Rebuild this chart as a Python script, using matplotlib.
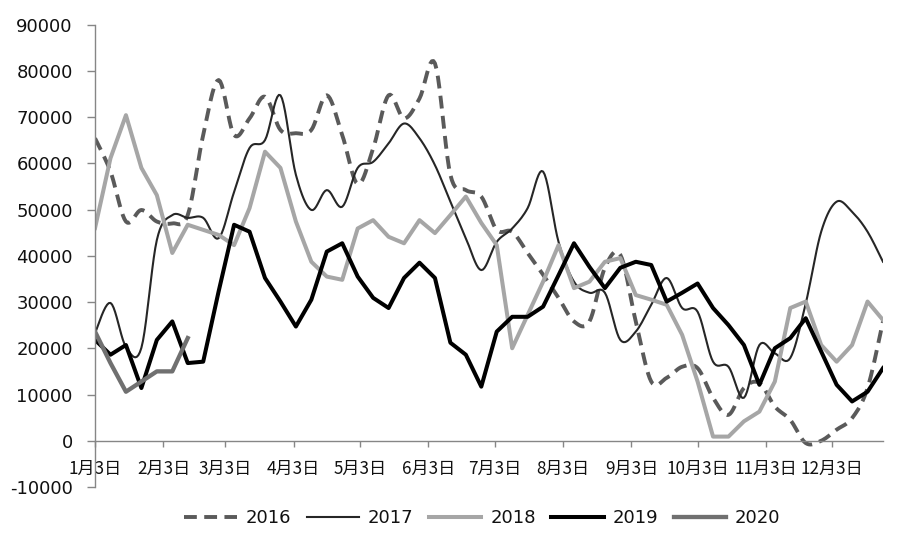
import numpy as np
import matplotlib
matplotlib.use("Agg")
import matplotlib.pyplot as plt
from matplotlib.lines import Line2D

plt.rcParams['font.family'] = ['DejaVu Sans', 'Noto Sans CJK SC']

# weekly points, day offset from 1月3日
weeks = np.arange(52) * 7
month_days = [0, 31, 59, 90, 120, 151, 181, 212, 243, 273, 304, 334]
month_labels = ["1月3日", "2月3日", "3月3日", "4月3日", "5月3日", "6月3日",
                "7月3日", "8月3日", "9月3日", "10月3日", "11月3日", "12月3日"]

v2016 = [65400, 58200, 47400, 49900, 47400, 47000, 48800, 66100, 78000, 66100,
         69700, 74400, 67200, 66500, 67200, 74700, 66100, 55500, 63200, 74700,
         69700, 74000, 81600, 57500, 54200, 52800, 45600, 45200, 40600, 35900,
         30900, 25800, 25800, 37400, 40200, 25800, 12800, 13600, 16000, 15700,
         9300, 5600, 11400, 12500, 7400, 4500, -500, 0, 2400, 4900,
         11400, 25800]
v2017 = [23300, 29800, 20300, 20100, 43400, 48800, 48200, 48200, 43800, 53800,
         63300, 65000, 74700, 57500, 49900, 54200, 50600, 59000, 60300, 64300,
         68600, 65400, 59600, 51700, 43800, 36900, 43000, 45900, 50300, 58200,
         43000, 34400, 32000, 32000, 21800, 23600, 29400, 35200, 28700, 27900,
         17100, 16000, 9300, 20700, 18900, 17900, 29700, 45200, 51700, 49500,
         45200, 38700]
v2018 = [46000, 61100, 70400, 59000, 53100, 40600, 46700, 45600, 44500, 42300,
         50300, 62500, 59000, 47400, 38700, 35500, 34800, 45900, 47700, 44100,
         42700, 47700, 44900, 48800, 52800, 47100, 42300, 20000, 27200, 34400,
         42300, 33000, 34400, 38700, 39500, 31500, 30500, 29400, 22900, 12800,
         900, 900, 4200, 6300, 12800, 28700, 30100, 20700, 17100, 20700,
         30100, 26100]
v2019 = [21800, 18600, 20700, 11400, 21800, 25800, 16800, 17100, 32300, 46700,
         45200, 35200, 30100, 24700, 30500, 40900, 42700, 35500, 30900, 28700,
         35200, 38500, 35200, 21200, 18600, 11700, 23600, 26800, 26800, 29000,
         35800, 42700, 37600, 33000, 37400, 38700, 38000, 30100, 32000, 34000,
         28700, 25000, 20700, 12100, 20000, 22200, 26500, 19300, 12100, 8500,
         10600, 15700]
v2020 = [23600, 16800, 10600, 12800, 15000, 15000, 22200]


def smooth(x, y, n=10):
    # catmull-rom, like excel's smoothed line
    x = np.asarray(x, float)
    y = np.asarray(y, float)
    xp = np.concatenate([[x[0]], x, [x[-1]]])
    yp = np.concatenate([[y[0]], y, [y[-1]]])
    t = np.linspace(0, 1, n, endpoint=False)
    ox, oy = [], []
    for i in range(1, len(xp) - 2):
        for arr, out in ((xp, ox), (yp, oy)):
            p0, p1, p2, p3 = arr[i - 1], arr[i], arr[i + 1], arr[i + 2]
            out.extend(0.5 * (2 * p1 + (-p0 + p2) * t
                              + (2 * p0 - 5 * p1 + 4 * p2 - p3) * t ** 2
                              + (-p0 + 3 * p1 - 3 * p2 + p3) * t ** 3))
    ox.append(x[-1])
    oy.append(y[-1])
    return np.array(ox), np.array(oy)


fig = plt.figure(figsize=(9, 5.41), dpi=100)
ax = fig.add_axes([0.1056, 0.0998, 0.8755, 0.8549])

sx, sy = smooth(weeks, v2016)
ax.plot(sx, sy, color='#5a5a5a', lw=2.8, dashes=(3.3, 1.9), label='2016')
sx, sy = smooth(weeks, v2017)
ax.plot(sx, sy, color='#262626', lw=1.5, label='2017')
ax.plot(weeks, v2018, color='#a6a6a6', lw=2.9, label='2018')
ax.plot(weeks, v2019, color='#000000', lw=2.9, label='2019')
ax.plot(weeks[:len(v2020)], v2020, color='#707070', lw=3.1, label='2020')

ax.set_xlim(0, 357)
ax.set_ylim(-10000, 90000)

for s in ['top', 'right']:
    ax.spines[s].set_visible(False)
ax.spines['left'].set_color('#868686')
ax.spines['left'].set_linewidth(1.0)
ax.spines['bottom'].set_position(('data', 0))
ax.spines['bottom'].set_color('#868686')
ax.spines['bottom'].set_linewidth(1.0)
ax.tick_params(axis='y', length=5.5, width=1, color='#868686', pad=10.5,
               labelsize=13, labelcolor='#111111')
ax.tick_params(axis='x', length=4.5, width=1, color='#868686', pad=9.5,
               labelsize=12.3, labelcolor='#111111')

ax.set_yticks(np.arange(-10000, 90001, 10000))
ax.set_yticklabels([str(v) for v in range(-10000, 90001, 10000)])
ax.set_xticks(month_days)
ax.set_xticklabels(month_labels)
for lab in ax.get_xticklabels():
    lab.set_fontfamily(['Noto Sans CJK SC', 'DejaVu Sans'])

handles = [
    Line2D([], [], color='#5a5a5a', lw=2.8, dashes=(3.3, 1.9)),
    Line2D([], [], color='#262626', lw=1.5),
    Line2D([], [], color='#a6a6a6', lw=2.9),
    Line2D([], [], color='#000000', lw=2.9),
    Line2D([], [], color='#707070', lw=3.1),
]
fig.legend(handles, ['2016', '2017', '2018', '2019', '2020'], ncol=5,
           loc='center', bbox_to_anchor=(0.536, 0.042), frameon=False,
           fontsize=13, labelcolor='#111111', handlelength=2.9,
           handletextpad=0.5, columnspacing=0.85)

fig.savefig('out.png', dpi=100)
